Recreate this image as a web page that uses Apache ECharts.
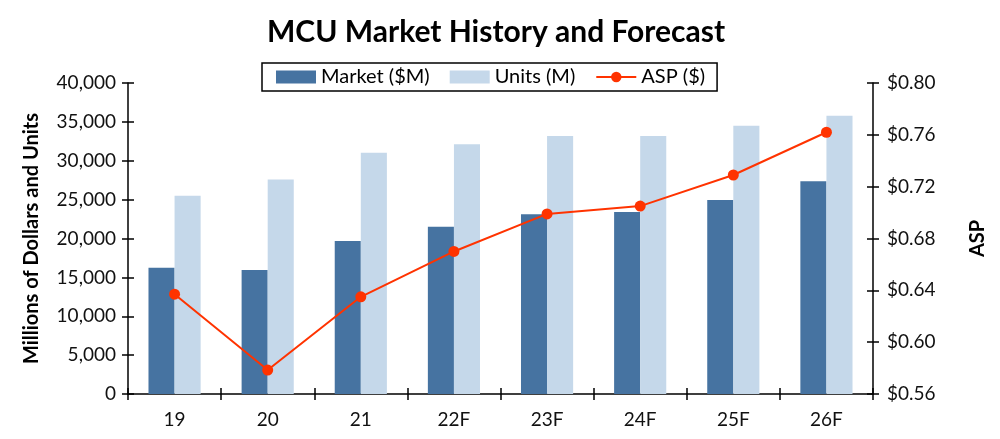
<!DOCTYPE html>
<html><head><meta charset="utf-8">
<script src="https://cdn.jsdelivr.net/npm/echarts@6/dist/echarts.min.js"></script>
<style>html,body{margin:0;padding:0;background:#fff}#c{width:1000px;height:439px}</style>
</head><body><div id="c"></div>
<script>
const categories = ['19','20','21','22F','23F','24F','25F','26F'];
const marketValues = [16250, 15950, 19680, 21500, 23110, 23410, 24950, 27350];
const unitValues = [25500, 27600, 31030, 32110, 33180, 33180, 34510, 35790];
const aspValues = [0.637, 0.5785, 0.635, 0.670, 0.699, 0.705, 0.729, 0.762];
const leftTicks = {min: 0, max: 40000, interval: 5000};
const rightTicks = {min: 0.56, max: 0.80, interval: 0.04};

const FONT = 'Lato, "Open Sans", sans-serif';
const chart = echarts.init(document.getElementById('c'));
const axisLine = {show: true, lineStyle: {color: '#000', width: 1.5}};
chart.setOption({
  animation: false,
  textStyle: {fontFamily: FONT},
  title: {text: 'MCU Market History and Forecast', left: 262, top: 12,
    textStyle: {fontFamily: FONT, fontSize: 30, fontWeight: 'bold', color: '#000'}},
  legend: {
    top: 63, left: 262, itemWidth: 40, itemHeight: 13, itemGap: 20,
    borderColor: '#000', borderWidth: 1.5, padding: [4, 12, 4, 14],
    textStyle: {fontFamily: FONT, fontSize: 20, color: '#000'},
    data: [{name: 'Market ($M)', icon: 'rect'}, {name: 'Units (M)', icon: 'rect'}, {name: 'ASP ($)'}]
  },
  grid: {left: 128, right: 127, top: 83, bottom: 45},
  xAxis: [
    {type: 'category', data: categories, axisLine: axisLine,
     axisTick: {show: true, length: 6, lineStyle: {color: '#000', width: 1.5}},
     axisLabel: {fontFamily: FONT, fontSize: 19, color: '#111', margin: 16}},
    {type: 'category', data: categories, position: 'bottom', axisLine: {show: false},
     axisTick: {show: true, inside: true, length: 6, lineStyle: {color: '#000', width: 1.5}},
     axisLabel: {show: false}}
  ],
  yAxis: [
    {type: 'value', min: leftTicks.min, max: leftTicks.max, interval: leftTicks.interval,
     position: 'left', axisLine: axisLine, splitLine: {show: false},
     axisTick: {show: true, length: 6, lineStyle: {color: '#000', width: 1.5}},
     axisLabel: {fontFamily: FONT, fontSize: 19, color: '#111', margin: 12,
       formatter: v => v.toLocaleString('en-US')},
     name: 'Millions of Dollars and Units', nameLocation: 'middle', nameGap: 86, nameRotate: 90,
     nameTextStyle: {fontFamily: FONT, fontSize: 20, fontWeight: 'bold', color: '#000'}},
    {type: 'value', min: rightTicks.min, max: rightTicks.max, interval: rightTicks.interval,
     position: 'right', axisLine: axisLine, splitLine: {show: false},
     axisTick: {show: true, length: 6, lineStyle: {color: '#000', width: 1.5}},
     axisLabel: {fontFamily: FONT, fontSize: 19, color: '#111', margin: 14,
       formatter: v => '$' + v.toFixed(2)},
     name: 'ASP', nameLocation: 'middle', nameGap: 95, nameRotate: 90,
     nameTextStyle: {fontFamily: FONT, fontSize: 20, fontWeight: 'bold', color: '#000'}},
    {type: 'value', min: leftTicks.min, max: leftTicks.max, interval: leftTicks.interval,
     position: 'left', axisLine: {show: false}, splitLine: {show: false},
     axisTick: {show: true, inside: true, length: 6, lineStyle: {color: '#000', width: 1.5}},
     axisLabel: {show: false}},
    {type: 'value', min: rightTicks.min, max: rightTicks.max, interval: rightTicks.interval,
     position: 'right', axisLine: {show: false}, splitLine: {show: false},
     axisTick: {show: true, inside: true, length: 6, lineStyle: {color: '#000', width: 1.5}},
     axisLabel: {show: false}}
  ],
  series: [
    {name: 'Market ($M)', type: 'bar', data: marketValues, barGap: '0%', barCategoryGap: '44%',
     itemStyle: {color: '#4673A1'}},
    {name: 'Units (M)', type: 'bar', data: unitValues,
     itemStyle: {color: '#C5D8EA'}},
    {name: 'ASP ($)', type: 'line', yAxisIndex: 1, data: aspValues,
     symbol: 'circle', symbolSize: 11, z: 5,
     lineStyle: {color: '#FF3300', width: 2}, itemStyle: {color: '#FF3300'}}
  ]
});
</script></body></html>
